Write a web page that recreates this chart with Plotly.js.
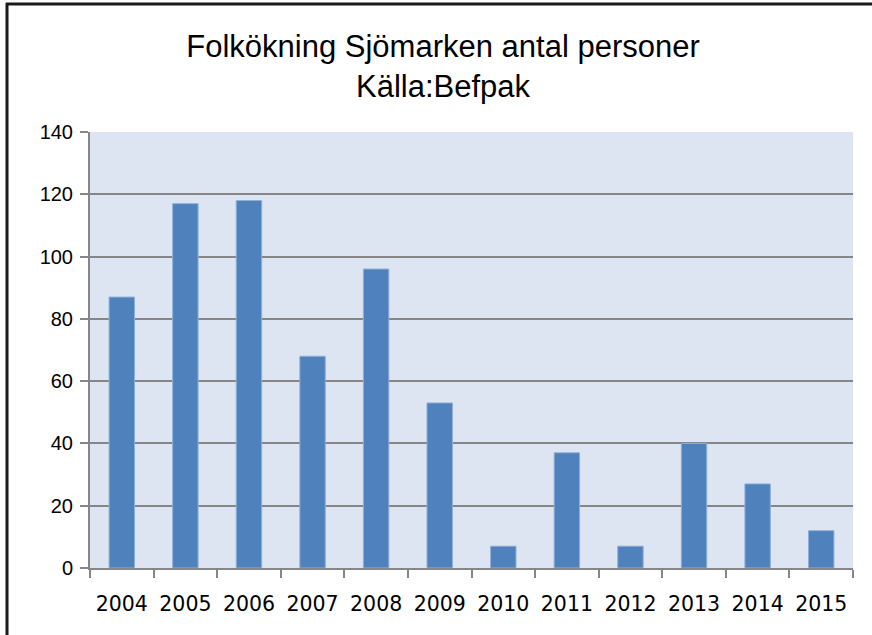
<!DOCTYPE html>
<html>
<head>
<meta charset="utf-8">
<script src="https://cdn.plot.ly/plotly-3.0.1.min.js"></script>
<style>html,body{margin:0;padding:0;background:#fff;}#chart{width:872px;height:635px;}</style>
</head>
<body>
<div id="chart"></div>
<script>
const years = ["2004","2005","2006","2007","2008","2009","2010","2011","2012","2013","2014","2015"];
const values = [87, 117, 118, 68, 96, 53, 7, 37, 7, 40, 27, 12];
const yTicks = [0, 20, 40, 60, 80, 100, 120, 140];

const W = 872, H = 635, L = 90, R = 19, T = 132, B = 67;
const pw = W - L - R, ph = H - T - B;
const px = x => (x - L) / pw;
const py = y => 1 - (y - T) / ph;

const trace = {
  type: 'bar',
  x: years,
  y: values,
  marker: {color: '#4f81bd', line: {color: '#8fb0da', width: 1}},
  hoverinfo: 'x+y'
};

const layout = {
  width: W, height: H,
  margin: {l: L, r: R, t: T, b: B, pad: 0},
  paper_bgcolor: '#ffffff',
  plot_bgcolor: '#dce5f1',
  showlegend: false,
  bargap: 0.6,
  title: {
    text: 'Folkökning Sjömarken antal personer<br>Källa:Befpak',
    font: {family: 'Liberation Sans, Arial, sans-serif', size: 31, color: '#000'},
    xref: 'container', x: 443 / W, xanchor: 'center',
    yref: 'container', y: 1 - 57 / H, yanchor: 'top'
  },
  xaxis: {
    type: 'category',
    showgrid: false,
    showline: true, linecolor: '#868686', linewidth: 2,
    ticks: 'outside', tickson: 'boundaries', ticklen: 8, tickcolor: '#868686', tickwidth: 2,
    tickfont: {family: 'DejaVu Sans, sans-serif', size: 20.5, color: '#000'},
    ticklabelstandoff: 16,
    zeroline: false
  },
  yaxis: {
    range: [0, 140],
    tickvals: yTicks,
    ticktext: yTicks.map(String),
    showgrid: true, gridcolor: '#868686', gridwidth: 2,
    showline: true, linecolor: '#868686', linewidth: 2,
    ticks: 'outside', ticklen: 8, tickcolor: '#868686', tickwidth: 2,
    tickfont: {family: 'Liberation Sans, Arial, sans-serif', size: 20, color: '#000'},
    ticklabelstandoff: 3,
    zeroline: false, fixedrange: true
  },
  shapes: [
    {type: 'line', xref: 'paper', yref: 'paper', x0: px(6), x1: px(W + 5), y0: py(4), y1: py(4), line: {color: '#1a1a1a', width: 3}},
    {type: 'line', xref: 'paper', yref: 'paper', x0: px(7), x1: px(7), y0: py(3), y1: py(H + 5), line: {color: '#1a1a1a', width: 3}}
  ]
};

Plotly.newPlot('chart', [trace], layout, {displayModeBar: false, staticPlot: true});
</script>
</body>
</html>
